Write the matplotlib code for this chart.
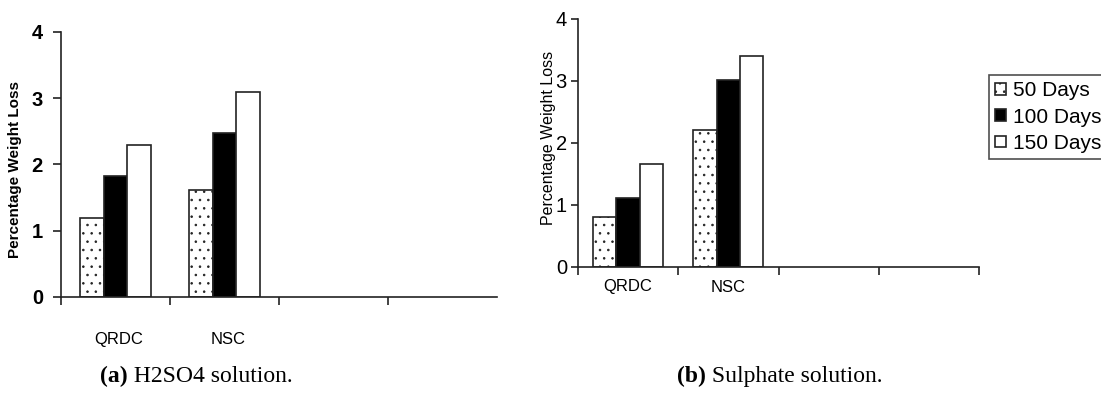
import matplotlib
matplotlib.use("Agg")
import matplotlib.pyplot as plt
import numpy as np

# data
categories = ["QRDC", "NSC"]
series = ["50 Days", "100 Days", "150 Days"]
h2so4_loss = [[1.19, 1.61], [1.82, 2.48], [2.29, 3.09]]
sulphate_loss = [[0.80, 2.21], [1.12, 3.02], [1.66, 3.40]]
y_ticks = [0, 1, 2, 3, 4]

faces = ["white", "black", "white"]
hatches = ["..", None, None]
edge = "#222222"

plt.rcParams["font.family"] = ["Liberation Sans", "DejaVu Sans"]
plt.rcParams["hatch.linewidth"] = 0.6
plt.rcParams["hatch.color"] = "#333333"

fig = plt.figure(figsize=(11.01, 4.05), dpi=100)
W, H = 1101, 405


def axes_px(x0, x1, ytop, ybot):
    return fig.add_axes([x0 / W, 1 - ybot / H, (x1 - x0) / W, (ybot - ytop) / H])


def draw_bars(ax, values, width):
    pos = np.arange(len(categories)) + 0.5
    for i, name in enumerate(series):
        ax.bar(pos + (i - 1) * width, values[i], width, color=faces[i],
               edgecolor=edge, linewidth=1.2, hatch=hatches[i], label=name)
    return pos


def style(ax, ncat):
    ax.set_xlim(0, ncat)
    ax.set_ylim(0, 4)
    ax.set_yticks(y_ticks)
    for s in ["top", "right"]:
        ax.spines[s].set_visible(False)
    for s in ["left", "bottom"]:
        ax.spines[s].set_color(edge)
        ax.spines[s].set_linewidth(1.2)
    ax.set_facecolor("none")


# (a) H2SO4
ax1 = axes_px(61, 497, 32, 297)
pos = draw_bars(ax1, h2so4_loss, 0.22)
style(ax1, 4)
ax1.set_xticks([0, 1, 2, 3])
ax1.set_xticklabels([])
ax1.tick_params(axis="x", direction="out", length=6, width=1.2, color=edge)
ax1.set_xticks(pos + 0.03, minor=True)
ax1.set_xticklabels(categories, minor=True, fontsize=12)
ax1.tick_params(axis="x", which="minor", length=0, pad=25)
ax1.set_yticklabels([str(v) for v in y_ticks], fontsize=14.5, fontweight="bold")
ax1.tick_params(axis="y", direction="out", length=6, width=1.2, color=edge, pad=7)
fig.text(15 / W, 1 - 169 / H, "Percentage Weight Loss", rotation=90,
         ha="center", va="center", fontsize=11, fontweight="bold")

# (b) Sulphate
ax2 = axes_px(578, 979, 19, 267)
pos = draw_bars(ax2, sulphate_loss, 0.233)
style(ax2, 4)
ax2.set_xticks([0, 1, 2, 3, 4])
ax2.set_xticklabels([])
ax2.tick_params(axis="x", direction="out", length=6, width=1.2, color=edge)
ax2.set_xticks(pos, minor=True)
ax2.set_xticklabels(categories, minor=True, fontsize=12)
ax2.tick_params(axis="x", which="minor", length=0, pad=9)
ax2.set_yticklabels([str(v) for v in y_ticks], fontsize=14.5)
ax2.tick_params(axis="y", direction="out", length=5, width=1.2, color=edge, pad=3)
fig.text(548 / W, 1 - 138 / H, "Percentage Weight Loss", rotation=90,
         ha="center", va="center", fontsize=11.5)

leg = ax2.legend(loc="upper left", bbox_to_anchor=(989 / W, 1 - 75 / H),
                 bbox_transform=fig.transFigure, fontsize=15, frameon=True,
                 fancybox=False, handlelength=0.5, handleheight=0.5,
                 handletextpad=0.35, borderpad=0.3, labelspacing=0.35,
                 borderaxespad=0)
leg.get_frame().set_edgecolor(edge)
leg.get_frame().set_linewidth(1.2)

# captions
for x, tag, rest in [(100, "(a)", " H2SO4 solution."), (677, "(b)", " Sulphate solution.")]:
    t = fig.text(x / W, 1 - 382 / H, tag, fontsize=17, fontweight="bold",
                 family="Liberation Serif", va="baseline")
    plt.annotate(rest, xy=(1, 0), xycoords=t, va="bottom", fontsize=17,
                 family="Liberation Serif", annotation_clip=False)

fig.savefig("out.png", dpi=100)
